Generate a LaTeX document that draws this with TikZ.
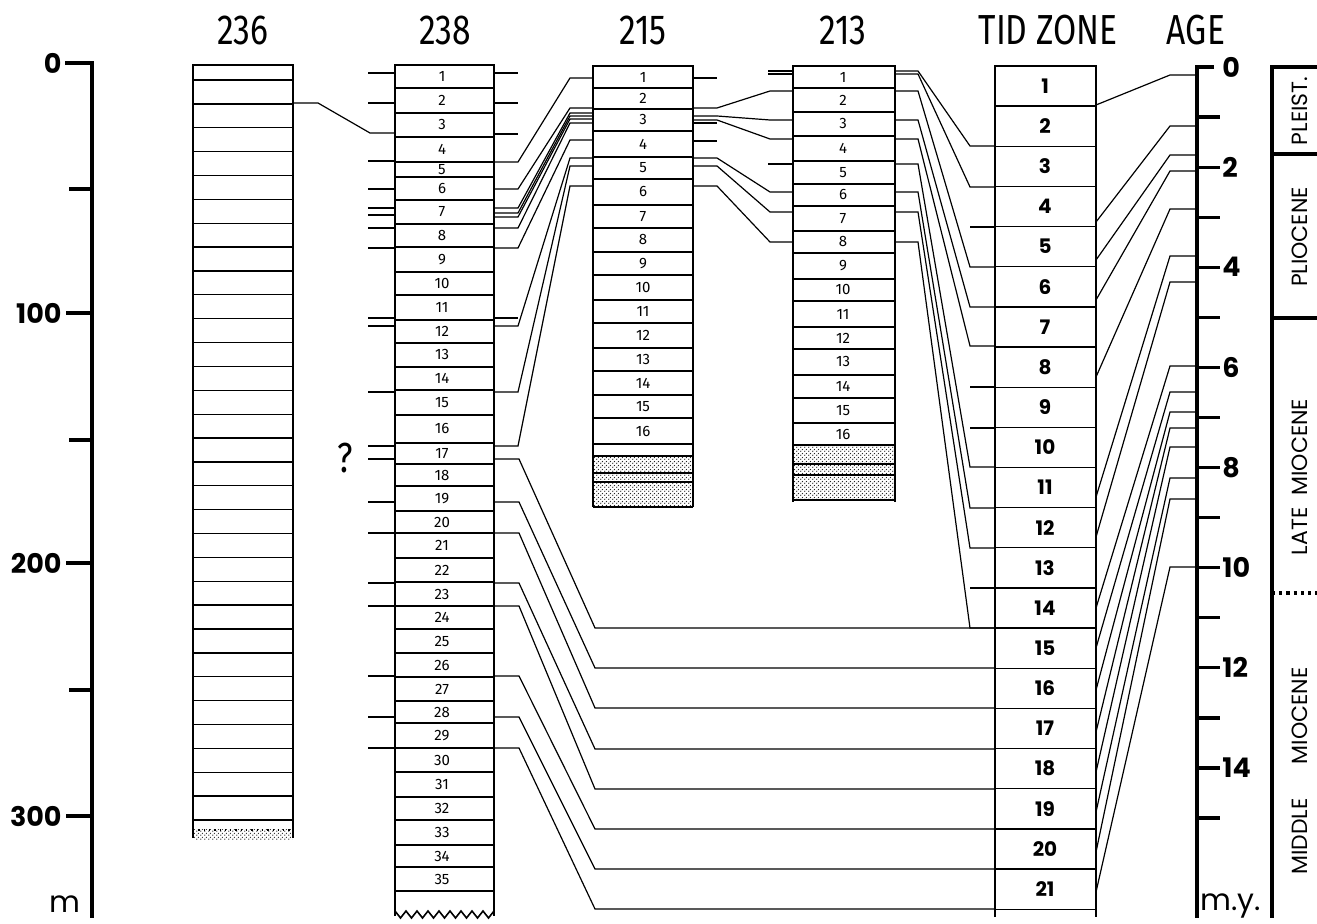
\documentclass[tikz,border=0pt]{standalone}
\usepackage{fontspec}
\setmainfont{Fira Sans}
\newfontfamily\hdrfont[FakeStretch=0.8]{Fira Sans}
\newfontfamily\geofont{Poppins}
\newfontfamily\colfont{Fira Sans}
\usetikzlibrary{patterns}
\pgfdeclarepatternformonly{finedots}{\pgfqpoint{0pt}{0pt}}{\pgfqpoint{2pt}{2pt}}{\pgfqpoint{2pt}{2pt}}{%
  \pgfpathcircle{\pgfqpoint{0.5pt}{0.5pt}}{0.4pt}%
  \pgfpathcircle{\pgfqpoint{1.5pt}{1.5pt}}{0.4pt}%
  \pgfusepath{fill}}
\begin{document}
\begin{tikzpicture}[x=0.5pt,y=-0.5pt]
\tikzset{
 frame/.style={line width=1.4pt},
 sep/.style={line width=0.65pt},
 conn/.style={line width=0.6pt},
 axis/.style={line width=1.6pt},
 hdr/.style={font=\hdrfont\fontsize{21}{21}\selectfont, inner sep=0pt},
 ax/.style={font=\geofont\bfseries\fontsize{13.5}{13.5}\selectfont, inner sep=0pt},
 cl/.style={font=\colfont\fontsize{7.5}{7.5}\selectfont, inner sep=0pt},
 tid/.style={font=\geofont\bfseries\fontsize{10}{10}\selectfont, inner sep=0pt},
 ep/.style={font=\geofont\fontsize{11}{11}\selectfont, inner sep=0pt, rotate=90},
 unit/.style={font=\geofont\fontsize{15}{15}\selectfont, inner sep=0pt},
 stip/.style={pattern=finedots, pattern color=black!85},
}
\useasboundingbox (0,0) rectangle (1317,924);

% headers
\node[hdr] (h236) at (243,30) {236};
\node[hdr] (h238) at (445,30) {238};
\node[hdr] (h215) at (643,30) {215};
\node[hdr] (h213) at (843,30) {213};
\node[hdr] (htid) at (1048,30) {TID ZONE};
\node[hdr] (hage) at (1196,30) {AGE};

% left depth axis
\draw[axis] (65,63) -- (92,63) -- (92,918);
\draw[axis] (66,313) -- (92,313);
\draw[axis] (66,563) -- (92,563);
\draw[axis] (66,816) -- (92,816);
\draw[axis] (69,189) -- (92,189);
\draw[axis] (69,440) -- (92,440);
\draw[axis] (69,690) -- (92,690);
\node[ax,anchor=east] (d0) at (62,63) {0};
\node[ax,anchor=east] (d100) at (62,313) {100};
\node[ax,anchor=east] (d200) at (62,563) {200};
\node[ax,anchor=east] (d300) at (62,816) {300};
\node[unit,anchor=base east] (dm) at (81,912) {m};

% column 236
\draw[frame] (193,838) -- (193,65) -- (293,65) -- (293,838);
\foreach \i in {0,...,31} \draw[sep] (193,{80+\i*23.87}) -- (293,{80+\i*23.87});
\fill[stip] (194,829) rectangle (292,839);
\draw[sep,dotted] (193,830) -- (293,830);
\draw[conn] (293,103) -- (318,103) -- (370,133) -- (395,133);

% column 238
\draw[frame] (395,916) -- (395,65) -- (494,65) -- (494,916);
\draw[line width=0.8pt] (395,911) \foreach \k in {0,...,8} { -- ({395+\k*11+5.5},918) -- ({395+\k*11+11},911)};
\foreach \y in {88,113,137,162,177,200,224,247,272,295,320,343,367,390,415,443,464,486,511,533,558,582,606,629,653,677,701,723,748,772,797,820,845,867,891}
  \draw[sep] (395,\y) -- (494,\y);
\foreach \n/\y in {1/76.5,2/100.5,3/125,4/149.5,5/169.5,6/188.5,7/212,8/235.5,9/259.5,10/283.5,11/307.5,12/331.5,13/355,14/378.5,15/402.5,16/429,17/453.5,18/475,19/498.5,20/522,21/545.5,22/570,23/594,24/617.5,25/641,26/665,27/689,28/712,29/735.5,30/760,31/784.5,32/808.5,33/832.5,34/856,35/879}
  \node[cl] (a\n) at (442,\y) {\n};
% 238 left ticks
\foreach \y in {73,103,161,189,208,215,228,248,318,326,392,446,459,502,533,583,606,676,717,748}
  \draw[conn] (368,\y) -- (395,\y);
% 238 right ticks
\foreach \y in {73,103,134,318}
  \draw[conn] (494,\y) -- (518,\y);
% 238 -> 215
\foreach \a/\b in {162/78,189/108,208/113,213/116,217/119,228/123,248/140,326/158,392/166,446/186}
  \draw[conn] (494,\a) -- (518,\a) -- (570,\b) -- (593,\b);
% 238 -> TID
\foreach \a/\b in {459/628,502/668,533/708,583/749,606/789,676/829,717/869,748/909}
  \draw[conn] (494,\a) -- (519,\a) -- (595,\b) -- (995,\b);

% column 215
\fill[stip] (594,456) rectangle (692,507);
\draw[frame] (593,507) -- (593,66) -- (693,66) -- (693,507);
\draw[sep] (593,507) -- (693,507);
\foreach \y in {88,109,131,157,179,205,228,252,275,300,323,348,371,395,418,444,456,473,482}
  \draw[sep] (593,\y) -- (693,\y);
\foreach \n/\y in {1/77,2/98.5,3/120,4/144,5/168,6/192,7/216.5,8/240,9/263.5,10/287.5,11/311.5,12/335.5,13/359.5,14/383,15/406.5,16/431}
  \node[cl] (b\n) at (643,\y) {\n};
\foreach \y in {78,123,141}
  \draw[conn] (693,\y) -- (717,\y);
% 215 -> 213
\foreach \a/\b in {108/91,116/120,120/139,158/192,166/212,186/242}
  \draw[conn] (693,\a) -- (717,\a) -- (770,\b) -- (793,\b);

% column 213
\fill[stip] (794,445) rectangle (894,500);
\draw[frame] (793,502) -- (793,66) -- (895,66) -- (895,502);
\draw[sep] (793,500) -- (895,500);
\foreach \y in {88,112,136,161,184,206,231,253,279,301,327,349,375,398,423,445,464,475}
  \draw[sep] (793,\y) -- (895,\y);
\foreach \n/\y in {1/77,2/100,3/124,4/148.5,5/172.5,6/195,7/218.5,8/242,9/266,10/290,11/314,12/338,13/362,14/386.5,15/410.5,16/434}
  \node[cl] (c\n) at (843,\y) {\n};
\foreach \y in {71,74,164}
  \draw[conn] (768,\y) -- (793,\y);
% 213 -> TID
\foreach \a/\b in {71/146,74/187,91/267,120/307,139/346,164/467,192/508,212/548,242/628}
  \draw[conn] (895,\a) -- (918,\a) -- (970,\b) -- (995,\b);
\foreach \y in {227,387,428,588}
  \draw[conn] (970,\y) -- (995,\y);

% TID zone
\draw[frame] (995,917) -- (995,66) -- (1096,66) -- (1096,917);
\foreach \k in {1,...,21} \draw[sep] (995,{66+\k*40.15}) -- (1096,{66+\k*40.15});
\foreach \k in {1,...,21} \node[tid] (t\k) at (1045,{86+(\k-1)*40.15}) {\k};
% TID -> age
\foreach \a/\b in {105/75,222/126,260/155,300/171,377/209,497/256,537/282,608/366,648/392,690/412,732/428,772/447,812/478,852/499,892/567}
  \draw[conn] (1096,\a) -- (1170,\b) -- (1197,\b);

% age axis
\draw[axis] (1214,67) -- (1197,67) -- (1197,918);
\foreach \k in {1,...,15} \draw[axis] (1197,{67+\k*50.07}) -- (1220,{67+\k*50.07});
\node[ax,anchor=west] (g0) at (1222,67) {0};
\foreach \k in {2,4,...,14} \node[ax,anchor=west] (g\k) at (1222,{67+\k*50.07}) {\k};
\node[unit,anchor=base west] (gmy) at (1200,910) {m.y.};

% epochs
\draw[axis] (1317,67) -- (1272,67) -- (1272,918);
\draw[axis] (1272,154) -- (1317,154);
\draw[axis] (1272,318) -- (1317,318);
\draw[line width=1.6pt, dotted] (1272,593) -- (1317,593);
\node[ep] (e1) at (1300,111) {PLEIST.};
\node[ep] (e2) at (1300,237) {PLIOCENE};
\node[ep] (e3) at (1300,477) {LATE\hspace{6pt}MIOCENE};
\node[ep] (e4) at (1300,771) {MIDDLE\hspace{17pt}MIOCENE};

\node[hdr] (q) at (345,458) {?};
\end{tikzpicture}
\end{document}
